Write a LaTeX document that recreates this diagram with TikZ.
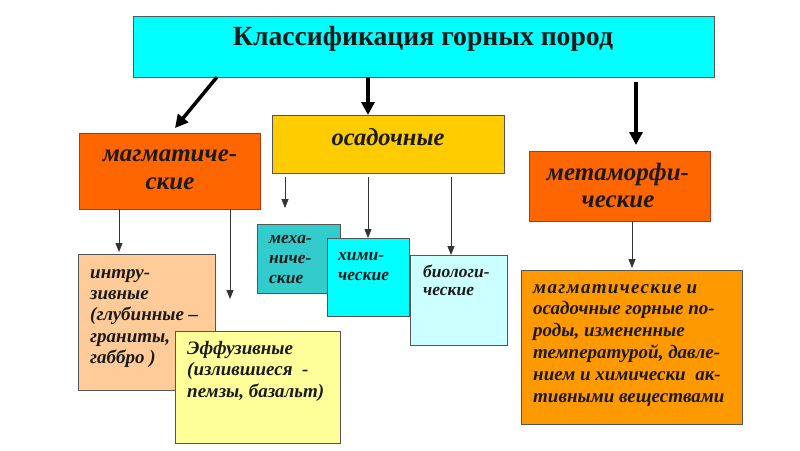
\documentclass[tikz,border=0pt]{standalone}
\usepackage{fontspec}
\setmainfont{Liberation Serif}
\usetikzlibrary{arrows.meta}
\definecolor{cTitle}{HTML}{00FFFF}
\definecolor{cMag}{HTML}{FF6600}
\definecolor{cOsad}{HTML}{FFCC00}
\definecolor{cIntr}{HTML}{FFCC99}
\definecolor{cEff}{HTML}{FFFF99}
\definecolor{cMech}{HTML}{33CCCC}
\definecolor{cChem}{HTML}{00FFFF}
\definecolor{cBio}{HTML}{CCFFFF}
\definecolor{cDesc}{HTML}{FF9900}
\definecolor{cEdge}{HTML}{555555}
\definecolor{cRedEdge}{HTML}{B23A10}
\definecolor{cInk}{HTML}{1A1A1A}
\begin{document}
\begin{tikzpicture}[x=1pt,y=-1pt,
  box/.style={draw=cEdge, line width=0.9pt, inner sep=0pt, outer sep=0pt, anchor=north west},
  hdr/.style={inner sep=0pt, align=center, text=cInk, font=\bfseries\itshape\fontsize{25}{28}\selectfont},
  txt/.style={inner sep=0pt, anchor=north west, align=left, text=cInk, font=\bfseries\itshape\fontsize{19}{21.5}\selectfont},
  stxt/.style={inner sep=0pt, anchor=north west, align=left, text=cInk, font=\bfseries\itshape\fontsize{17.5}{20}\selectfont},
  thick arrow/.style={line width=3.5pt, -{Triangle[length=13pt,width=13pt]}},
  thin arrow/.style={line width=0.9pt, draw=black!80, -{Triangle[length=9pt,width=7pt]}}
]
\useasboundingbox (0,0) rectangle (800,450);

% boxes
\node[box, fill=cTitle, minimum width=581pt, minimum height=61pt] (title) at (133,16) {};
\node[box, fill=cMag, draw=cRedEdge, minimum width=181pt, minimum height=76pt] (mag) at (79,133) {};
\node[box, fill=cOsad, minimum width=232pt, minimum height=58pt] (osad) at (272,115) {};
\node[box, fill=cMag, draw=cRedEdge, minimum width=181pt, minimum height=70pt] (met) at (529,151) {};
\node[box, fill=cIntr, minimum width=137pt, minimum height=136pt] (intr) at (78,254) {};
\node[box, fill=cEff, minimum width=165pt, minimum height=112pt] (eff) at (175,331) {};
\node[box, fill=cMech, minimum width=83pt, minimum height=69pt] (mech) at (257,224) {};
\node[box, fill=cChem, minimum width=82pt, minimum height=78pt] (chem) at (327,238) {};
\node[box, fill=cBio, minimum width=97pt, minimum height=90pt] (bio) at (410,255) {};
\node[box, fill=cDesc, minimum width=221pt, minimum height=154pt] (desc) at (521,270) {};

% texts
\node[inner sep=0pt, anchor=base, text=cInk, font=\bfseries\fontsize{27.7}{30}\selectfont] (titletext) at (423,45) {Классификация горных пород};
\node[hdr, anchor=north] (magtext) at (170,141.4) {\strut магматиче-\\ские};
\node[hdr, anchor=base, font=\bfseries\itshape\fontsize{24.5}{28}\selectfont] (osadtext) at (388,145) {осадочные};
\node[hdr, anchor=north, font=\bfseries\itshape\fontsize{25}{27}\selectfont] (mettext) at (618,161.1) {\strut метаморфи-\\ческие};
\node[txt, font=\bfseries\itshape\fontsize{19}{21.3}\selectfont] (intrtext) at (90,263.1) {\strut интру-\\зивные\\(глубинные –\\граниты,\\габбро )};
\node[txt] (efftext) at (187,339) {\strut Эффузивные\\(излившиеся \ -\\пемзы, базальт)};
\node[txt, font=\bfseries\itshape\fontsize{19}{21.8}\selectfont] (desctext) at (533,277.7) {\strut{\addfontfeatures{LetterSpace=7}магматические} и\\осадочные горные по-\\роды, измененные\\температурой, давле-\\нием и химически \ ак-\\тивными веществами};
\node[stxt] (mechtext) at (269,229) {\strut меха-\\ниче-\\ские};
\node[stxt] (chemtext) at (338,246) {\strut хими-\\ческие};
\node[stxt, font=\bfseries\itshape\fontsize{17.5}{18.5}\selectfont] (biotext) at (423,264) {\strut биологи-\\ческие};

% helper coordinates
\coordinate (a1s) at (217,77);
\coordinate (a1e) at (175,128);
\coordinate (a2) at (368,0);
\coordinate (a3s) at (636,82);
\coordinate (m1) at (119,0);
\coordinate (m2e) at (230,299);
\coordinate (o1e) at (285,208);
\coordinate (o2) at (368,0);
\coordinate (o3) at (451,0);
\coordinate (me) at (632,0);

% thick arrows
\draw[thick arrow] (a1s) -- (a1e);
\draw[thick arrow] (title.south -| a2) -- (osad.north -| a2);
\draw[thick arrow, shorten >=6pt] (a3s) -- (met.north -| a3s);

% thin arrows
\draw[thin arrow, shorten >=2pt] (mag.south -| m1) -- (intr.north -| m1);
\draw[thin arrow] (mag.south -| m2e) -- (m2e);
\draw[thin arrow, shorten <=4pt] (osad.south -| o1e) -- (o1e);
\draw[thin arrow, shorten <=4pt] (osad.south -| o2) -- (chem.north -| o2);
\draw[thin arrow, shorten <=4pt] (osad.south -| o3) -- (bio.north -| o3);
\draw[thin arrow, shorten >=2pt] (met.south -| me) -- (desc.north -| me);
\end{tikzpicture}
\end{document}
